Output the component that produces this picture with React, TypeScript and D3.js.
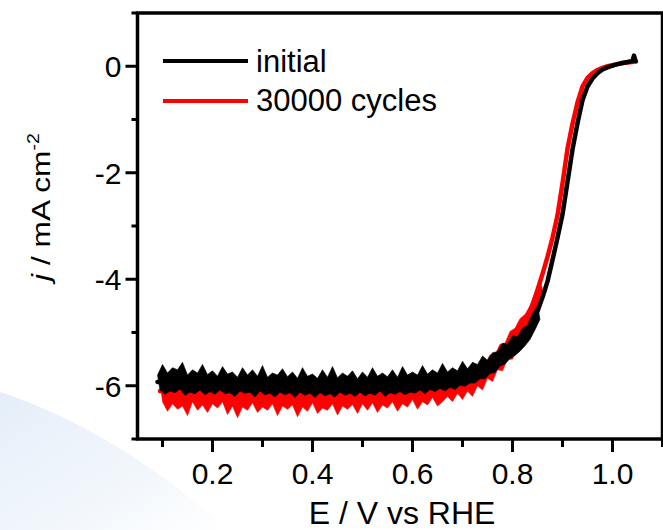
import React from "react";
import * as d3 from "d3";

// ORR polarisation curves, before and after 30000 cycles

// mean curve of each series (E in V vs RHE, j in mA cm-2)
const initialPotential = [0.09, 0.15, 0.2, 0.3, 0.4, 0.5, 0.6, 0.65, 0.68, 0.7, 0.72, 0.74, 0.76, 0.78, 0.8, 0.81, 0.82, 0.83, 0.84, 0.85, 0.86, 0.87, 0.88, 0.89, 0.9, 0.91, 0.92, 0.93, 0.94, 0.95, 0.96, 0.97, 0.98, 0.99, 1.0, 1.01, 1.02, 1.03, 1.04, 1.043, 1.046];
const initialCurrent = [-5.93, -5.95, -5.95, -5.98, -6.0, -6.0, -5.97, -5.92, -5.87, -5.82, -5.76, -5.67, -5.56, -5.42, -5.28, -5.2, -5.1, -4.98, -4.8, -4.6, -4.34, -4.04, -3.64, -3.22, -2.78, -2.17, -1.56, -1.07, -0.64, -0.38, -0.23, -0.13, -0.06, -0.02, 0.01, 0.04, 0.06, 0.08, 0.1, 0.2, 0.1];

const cycledPotential = [0.095, 0.2, 0.3, 0.4, 0.5, 0.6, 0.65, 0.7, 0.72, 0.74, 0.76, 0.78, 0.8, 0.81, 0.82, 0.83, 0.84, 0.85, 0.86, 0.87, 0.88, 0.89, 0.9, 0.91, 0.92, 0.93, 0.94, 0.95, 0.96, 0.97, 0.98, 0.99, 1.0, 1.01, 1.02, 1.03, 1.047];
const cycledCurrent = [-6.1, -6.12, -6.15, -6.18, -6.15, -6.12, -6.05, -5.97, -5.9, -5.78, -5.62, -5.45, -5.22, -5.08, -4.92, -4.72, -4.48, -4.2, -3.9, -3.58, -3.22, -2.8, -2.2, -1.55, -1.08, -0.68, -0.38, -0.22, -0.13, -0.07, -0.03, 0.0, 0.02, 0.04, 0.06, 0.07, 0.09];

// noise band, sampled every 10 mV (initial from 0.09 V, cycled from 0.095 V)
const bandStep = 0.01;
const initialBandStart = 0.09;
const initialUpper = [
  -5.8, -5.6, -5.76, -5.66, -5.7, -5.56, -5.8, -5.7, -5.76, -5.6,
  -5.79, -5.72, -5.82, -5.64, -5.78, -5.74, -5.84, -5.66, -5.8, -5.7,
  -5.82, -5.62, -5.84, -5.76, -5.8, -5.68, -5.83, -5.74, -5.86, -5.66,
  -5.82, -5.78, -5.86, -5.7, -5.84, -5.64, -5.85, -5.76, -5.82, -5.72,
  -5.87, -5.74, -5.84, -5.66, -5.82, -5.76, -5.83, -5.7, -5.84, -5.64,
  -5.8, -5.74, -5.8, -5.62, -5.78, -5.7, -5.76, -5.58, -5.74, -5.66,
  -5.72, -5.54, -5.68, -5.56, -5.6, -5.44, -5.52, -5.38, -5.36, -5.2,
  -5.22, -5.06, -5.08, -4.92, -4.86, -4.64, -4.5,
];
const initialLower = [
  -6.08, -6.16, -6.1, -6.13, -6.06, -6.18, -6.12, -6.15, -6.08, -6.17,
  -6.11, -6.16, -6.08, -6.15, -6.13, -6.2, -6.1, -6.14, -6.12, -6.21,
  -6.1, -6.17, -6.14, -6.21, -6.12, -6.17, -6.13, -6.22, -6.12, -6.18,
  -6.14, -6.22, -6.13, -6.19, -6.15, -6.21, -6.12, -6.18, -6.14, -6.2,
  -6.12, -6.19, -6.14, -6.18, -6.1, -6.2, -6.13, -6.16, -6.11, -6.17,
  -6.12, -6.14, -6.08, -6.15, -6.07, -6.11, -6.05, -6.1, -6.03, -6.07,
  -5.99, -6.01, -5.95, -5.95, -5.87, -5.87, -5.77, -5.75, -5.63, -5.59,
  -5.49, -5.43, -5.35, -5.25, -5.13, -4.95, -4.75,
];
const cycledBandStart = 0.095;
const cycledUpper = [
  -5.92, -5.84, -5.96, -5.86, -5.94, -5.82, -5.95, -5.88, -5.97, -5.85,
  -5.93, -5.87, -5.98, -5.84, -5.95, -5.9, -5.98, -5.86, -5.94, -5.88,
  -5.99, -5.85, -5.96, -5.89, -6.0, -5.86, -5.95, -5.9, -5.98, -5.84,
  -5.96, -5.88, -5.99, -5.86, -5.94, -5.9, -5.97, -5.85, -5.95, -5.88,
  -5.96, -5.84, -5.94, -5.87, -5.95, -5.83, -5.92, -5.86, -5.93, -5.8,
  -5.9, -5.84, -5.9, -5.78, -5.86, -5.8, -5.86, -5.92, -5.8, -5.86,
  -5.76, -5.82, -5.7, -5.72, -5.58, -5.6, -5.42, -5.42, -5.22, -5.2,
  -4.98, -4.92, -4.74, -4.66, -4.5, -4.26, -3.98,
];
const cycledLower = [
  -6.3, -6.48, -6.34, -6.44, -6.38, -6.56, -6.3, -6.46, -6.36, -6.5,
  -6.34, -6.42, -6.3, -6.54, -6.38, -6.6, -6.4, -6.46, -6.32, -6.5,
  -6.4, -6.46, -6.34, -6.56, -6.38, -6.44, -6.36, -6.58, -6.4, -6.48,
  -6.32, -6.52, -6.42, -6.46, -6.34, -6.55, -6.38, -6.44, -6.35, -6.52,
  -6.34, -6.46, -6.32, -6.5, -6.36, -6.42, -6.3, -6.48, -6.34, -6.4,
  -6.26, -6.44, -6.3, -6.36, -6.22, -6.38, -6.3, -6.2, -6.3, -6.14,
  -6.26, -6.1, -6.2, -6.0, -6.08, -5.86, -5.92, -5.7, -5.72, -5.5,
  -5.5, -5.28, -5.26, -5.0, -4.84, -4.5, -4.2,
];

const xMajorTicks = [0.2, 0.4, 0.6, 0.8, 1.0];
const xMinorTicks = [0.1, 0.3, 0.5, 0.7, 0.9, 1.1];
const yMajorTicks = [0, -2, -4, -6];
const yMinorTicks = [1, -1, -3, -5, -7];

const seriesNames = ["initial", "30000 cycles"];
const seriesColors = ["#000000", "#ff0000"];

const FONT = "'Liberation Sans', Arial, Helvetica, sans-serif";

export default function App() {
  const width = 663;
  const height = 530;
  const x = d3.scaleLinear().domain([0.05, 1.1]).range([137.5, 662.5]);
  const y = d3.scaleLinear().domain([-7, 1]).range([439, 13]);

  const line = d3
    .line<[number, number]>()
    .x((d) => x(d[0]))
    .y((d) => y(d[1]));

  // closed polygon: upper edge left->right, lower edge right->left
  const band = (start: number, upper: number[], lower: number[]) => {
    const top = upper.map((v, i) => [start + i * bandStep, v] as [number, number]);
    const bottom = lower
      .map((v, i) => [start + i * bandStep + bandStep / 2, v] as [number, number])
      .reverse();
    return line(top.concat(bottom)) + "Z";
  };

  const series = [
    {
      name: seriesNames[1],
      color: seriesColors[1],
      mid: line(cycledPotential.map((p, i) => [p, cycledCurrent[i]])),
      band: band(cycledBandStart, cycledUpper, cycledLower),
    },
    {
      name: seriesNames[0],
      color: seriesColors[0],
      mid: line(initialPotential.map((p, i) => [p, initialCurrent[i]])),
      band: band(initialBandStart, initialUpper, initialLower),
    },
  ];

  const [x0, x1] = x.range();
  const [yb, yt] = y.range();

  return (
    <svg
      width={width}
      height={height}
      style={{ position: "absolute", left: 0, top: 0, background: "#fff" }}
      fontFamily={FONT}
    >
      <defs>
        <linearGradient id="swoosh" x1="0" y1="0" x2="1" y2="1">
          <stop offset="0" stopColor="#d3e3f4" />
          <stop offset="0.6" stopColor="#e9f1fa" />
          <stop offset="1" stopColor="#ffffff" />
        </linearGradient>
      </defs>
      {/* faint slide background in the corner */}
      <path d="M0,392 C70,415 160,465 225,530 L0,530 Z" fill="url(#swoosh)" opacity={0.6} />

      {/* curves */}
      {series.map((s) => (
        <g key={s.name}>
          <path d={s.band} fill={s.color} stroke={s.color} strokeWidth={0.6} />
          <path d={s.mid ?? ""} fill="none" stroke={s.color} strokeWidth={4.5} strokeLinejoin="round" strokeLinecap="round" />
        </g>
      ))}

      {/* frame */}
      <rect x={x0} y={yt} width={x1 - x0} height={yb - yt} fill="none" stroke="#000" strokeWidth={3.5} />

      {/* x ticks */}
      {xMajorTicks.map((t) => (
        <g key={"xM" + t}>
          <line x1={x(t)} x2={x(t)} y1={yb} y2={yb + 13} stroke="#000" strokeWidth={3} />
          <text x={x(t)} y={yb + 45} textAnchor="middle" fontSize={30}>
            {d3.format(".1f")(t)}
          </text>
        </g>
      ))}
      {xMinorTicks.map((t) => (
        <line key={"xm" + t} x1={x(t)} x2={x(t)} y1={yb} y2={yb + 8} stroke="#000" strokeWidth={3} />
      ))}

      {/* y ticks */}
      {yMajorTicks.map((t) => (
        <g key={"yM" + t}>
          <line x1={x0 - 12} x2={x0} y1={y(t)} y2={y(t)} stroke="#000" strokeWidth={3} />
          <text x={x0 - 16} y={y(t)} dy="0.36em" textAnchor="end" fontSize={30}>
            {String(t)}
          </text>
        </g>
      ))}
      {yMinorTicks.map((t) => (
        <line key={"ym" + t} x1={x0 - 6} x2={x0} y1={y(t)} y2={y(t)} stroke="#000" strokeWidth={3} />
      ))}

      {/* axis titles */}
      <text x={(x0 + x1) / 2 + 2} y={524} textAnchor="middle" fontSize={32}>
        E / V vs RHE
      </text>
      <text transform="translate(50,207) rotate(-90) scale(1.22,1)" textAnchor="middle" fontSize={26}>
        <tspan fontStyle="italic">j</tspan>
        <tspan> / mA cm</tspan>
        <tspan dy={-11} fontSize={16}>-2</tspan>
      </text>

      {/* legend */}
      {seriesNames.map((n, i) => (
        <g key={"lg" + n}>
          <line x1={163} x2={248} y1={61 + i * 40} y2={61 + i * 40} stroke={seriesColors[i]} strokeWidth={4} />
          <text x={256} y={72 + i * 39} fontSize={31}>
            {n}
          </text>
        </g>
      ))}
    </svg>
  );
}
